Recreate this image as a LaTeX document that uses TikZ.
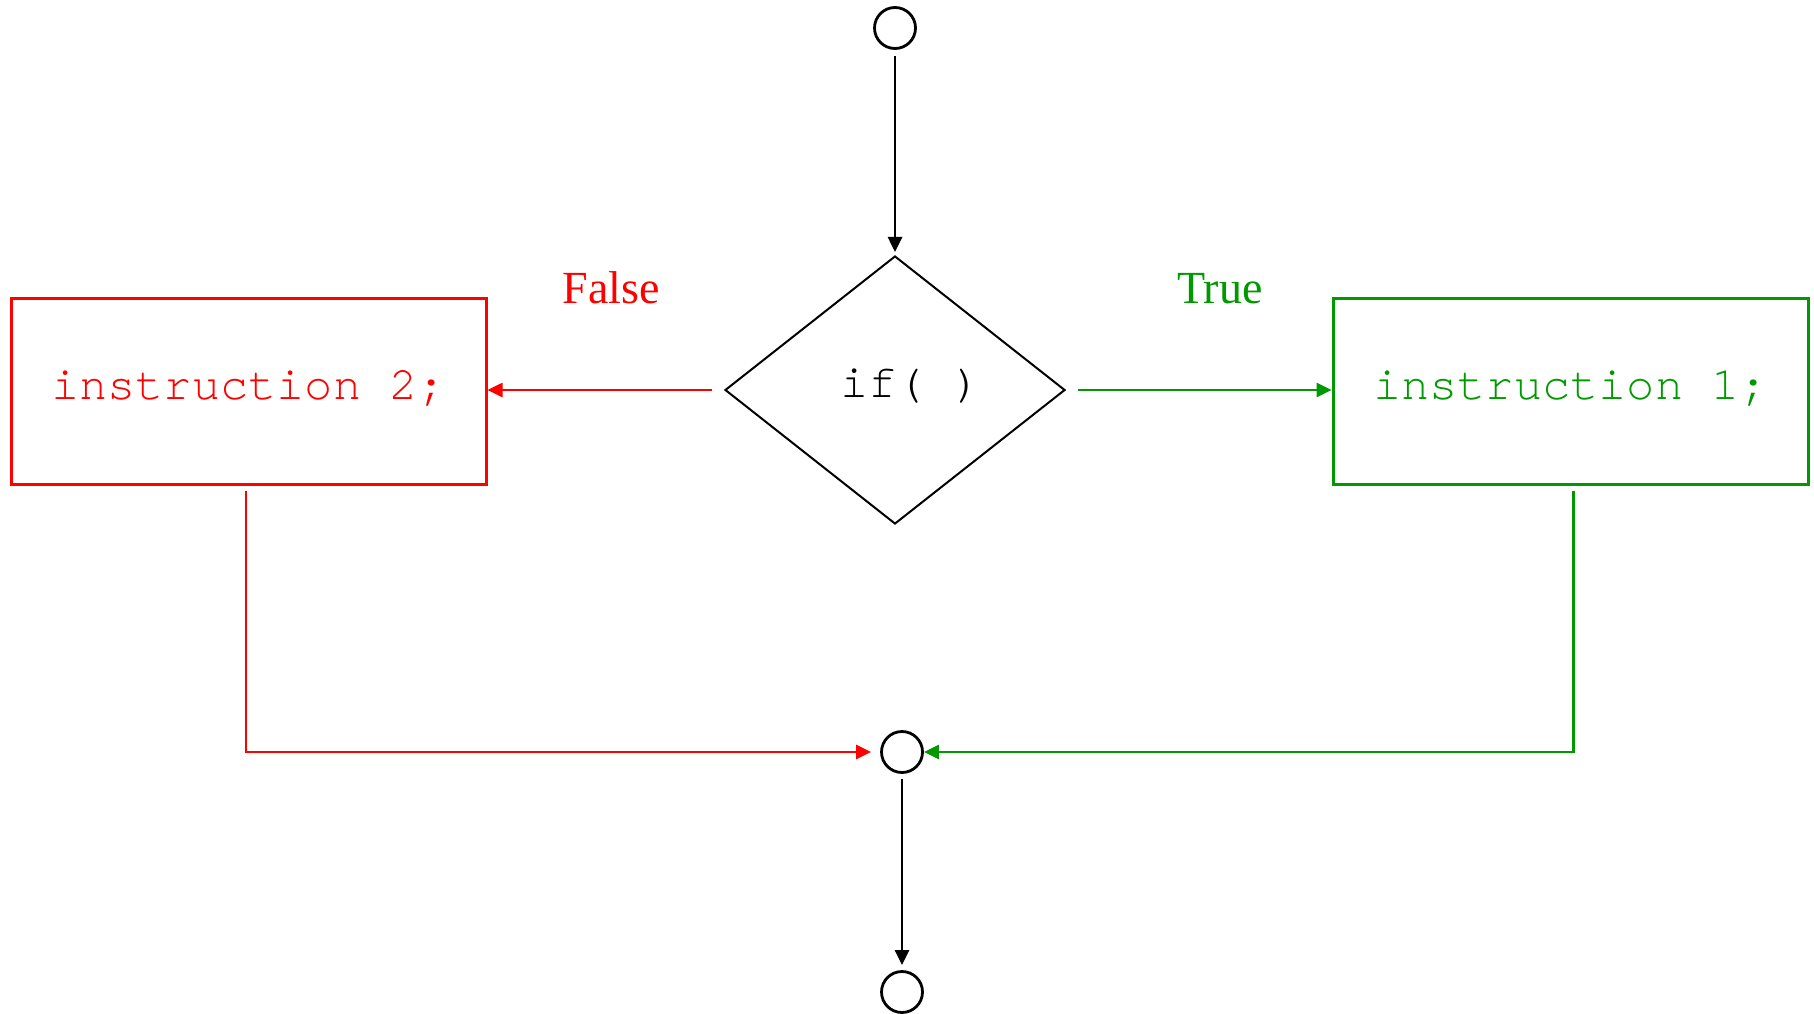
\documentclass[tikz,border=0pt]{standalone}
\usepackage{fontspec}
\setmainfont{Liberation Serif}
\setmonofont{TeX Gyre Cursor}
\usetikzlibrary{shapes.geometric,arrows.meta}
\definecolor{flowtrue}{RGB}{0,153,0}
\definecolor{flowfalse}{RGB}{255,0,0}
\tikzset{
  joint/.style={circle,draw,line width=2.8pt,minimum size=41pt,inner sep=0pt},
  test/.style={diamond,draw,line width=2pt,minimum width=340pt,minimum height=268pt,
    inner sep=0pt,font=\fontsize{47}{50}\selectfont\ttfamily,text height=20pt,text depth=6pt},
  instr/.style={rectangle,draw,line width=3pt,minimum width=475pt,minimum height=186pt,
    inner sep=0pt,font=\fontsize{47}{50}\selectfont\ttfamily,text height=24pt,text depth=8pt},
  branch/.style={font=\fontsize{46}{50}\selectfont,anchor=base},
  flow/.style={line width=2.6pt,-{Triangle[length=15pt,width=14pt]}},
}
\begin{document}
\begin{tikzpicture}[x=1pt,y=-1pt]
  \useasboundingbox (0,0) rectangle (1814,1014);

  % start, decision, the two branches, join and end
  \node[joint] (start) at (895,28) {};
  \node[test] (cond) at (895,390) {\hspace*{32pt}if(\ )};
  \node[instr,draw=flowfalse,text=flowfalse] (instrB) at (248.5,391) {instruction 2;};
  \node[instr,draw=flowtrue,text=flowtrue] (instrA) at (1570.5,391) {instruction 1;};
  \node[joint] (join) at (902,752) {};
  \node[joint] (finish) at (902,992) {};

  % branch labels
  \node[branch,text=flowfalse] (lblF) at (611,303) {False};
  \node[branch,text=flowtrue] (lblT) at (1220,303) {True};

  % connectors
  \draw[flow,shorten <=6pt,shorten >=3pt] (start) -- (cond);
  \draw[flow,flowfalse,shorten <=12pt] (cond.west) -- (cond.west -| instrB.east);
  \draw[flow,flowtrue,shorten <=12pt] (cond.east) -- (cond.east -| instrA.west);
  \draw[flow,flowfalse,shorten <=5.5pt,shorten >=9pt] ([xshift=-2.5pt]instrB.south) |- (join);
  \draw[flow,flowtrue,shorten <=5.5pt] ([xshift=3pt]instrA.south) |- (join);
  \draw[flow,shorten <=5pt,shorten >=5pt] (join) -- (finish);
\end{tikzpicture}
\end{document}
